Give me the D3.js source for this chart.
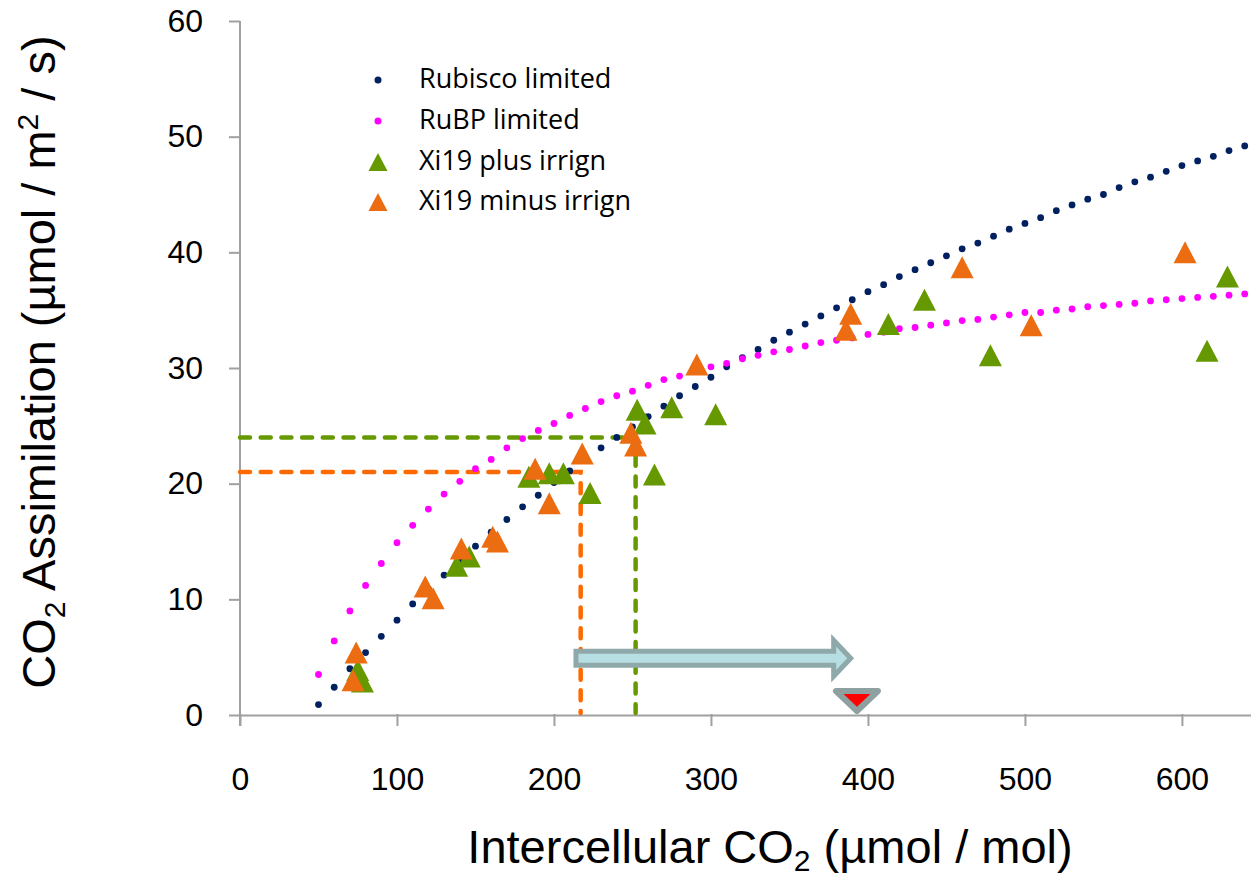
<!DOCTYPE html>
<html>
    <head>
        <style>
            body { margin: 0; background: #ffffff; }
            svg { background: #ffffff; }
        </style>
    </head>
    <body>
        <div id="chart"></div>

        <script src="https://cdnjs.cloudflare.com/ajax/libs/d3/7.8.5/d3.min.js"></script>

    <script>
        // model curves, one dot every 10 umol/mol of Ci
        var curveCi = d3.range(50, 641, 10);
        var rubiscoA = [0.9, 2.4, 4.0, 5.4, 6.8, 8.2, 9.6, 10.9, 12.1, 13.4,
            14.6, 15.8, 16.9, 18.0, 19.0, 20.1, 21.1, 22.1, 23.1, 24.0,
            24.9, 25.8, 26.7, 27.6, 28.4, 29.2, 30.1, 30.9, 31.6, 32.4,
            33.1, 33.8, 34.5, 35.2, 35.9, 36.6, 37.2, 37.9, 38.5, 39.1,
            39.7, 40.3, 40.8, 41.4, 42.0, 42.5, 43.0, 43.6, 44.1, 44.6,
            45.0, 45.6, 46.1, 46.5, 47.0, 47.5, 47.9, 48.3, 48.8, 49.2];
        var rubpA = [3.5, 6.4, 9.0, 11.2, 13.1, 14.9, 16.4, 17.8, 19.1, 20.2,
            21.3, 22.1, 23.1, 23.9, 24.6, 25.2, 25.9, 26.5, 27.1, 27.6,
            28.0, 28.5, 29.0, 29.3, 29.7, 30.1, 30.4, 30.8, 31.1, 31.4,
            31.6, 31.9, 32.2, 32.4, 32.6, 32.9, 33.1, 33.4, 33.5, 33.7,
            33.9, 34.1, 34.2, 34.4, 34.6, 34.8, 34.8, 35.0, 35.1, 35.3,
            35.4, 35.5, 35.6, 35.8, 35.9, 36.0, 36.1, 36.2, 36.3, 36.4];

        // measured points [Ci, A]
        var plusIrrign = [[75, 3.9], [78, 2.9], [138, 12.9], [146, 13.7], [184, 20.6], [197, 20.9],
            [206, 20.9], [223, 19.2], [253, 26.4], [258, 25.2], [264, 20.8], [275, 26.6],
            [303, 26.0], [413, 33.8], [436, 35.9], [478, 31.1], [616, 31.5], [629, 37.9]];
        var minusIrrign = [[72, 3.0], [74, 5.4], [118, 11.1], [123, 10.1], [141, 14.4], [161, 15.4],
            [164, 15.0], [188, 21.3], [197, 18.3], [218, 22.6], [249, 24.4], [252, 23.3],
            [291, 30.3], [386, 33.3], [389, 34.7], [460, 38.7], [504, 33.7], [602, 40.0]];

        // dashed read-off lines [Ci, A]
        var plusReadOff = [252, 24];
        var minusReadOff = [217, 21];

        // shift arrow and ambient CO2 marker
        var arrowCi = [214, 389];
        var arrowA = 4.9;
        var ambientCi = 393;

        var xTicks = [0, 100, 200, 300, 400, 500, 600];
        var yTicks = [0, 10, 20, 30, 40, 50, 60];

        var legendLabels = ["Rubisco limited", "RuBP limited", "Xi19 plus irrign", "Xi19 minus irrign"];

        var navy = "#002060", magenta = "#ff00ff", green = "#669900", orange = "#ec6c12";

        var width = 1251, height = 879;

        var svg = d3.select("#chart")
            .append("svg")
            .attr("width", width)
            .attr("height", height);

        var x = d3.scaleLinear().domain([0, 644]).range([240, 1251]);
        var y = d3.scaleLinear().domain([0, 60]).range([715, 21]);

        // axes
        var xAxis = svg.append("g")
            .attr("transform", "translate(0," + y(0) + ")")
            .call(d3.axisBottom(x).tickValues(xTicks).tickSize(11).tickSizeOuter(0).tickPadding(41));
        var yAxis = svg.append("g")
            .attr("transform", "translate(" + x(0) + ",0)")
            .call(d3.axisLeft(y).tickValues(yTicks).tickSize(11).tickSizeOuter(0).tickPadding(26));

        [xAxis, yAxis].forEach(function(g) {
            g.select(".domain").attr("stroke", "#a0a0a0").attr("stroke-width", 2);
            g.selectAll(".tick line").attr("stroke", "#a0a0a0").attr("stroke-width", 2);
            g.selectAll(".tick text")
                .attr("fill", "#000")
                .style("font-family", "'Liberation Sans', Arial, sans-serif")
                .style("font-size", "32px");
        });
        xAxis.selectAll(".tick line").attr("y1", -1);
        yAxis.select(".domain").attr("d", "M0," + y(60) + "V" + (y(0) + 11));

        // dashed read-off lines
        function readOff(p, color) {
            svg.append("path")
                .attr("d", "M" + x(0) + "," + y(p[1]) + "H" + x(p[0]) + "V" + (y(0) - 2))
                .attr("fill", "none")
                .attr("stroke", color)
                .attr("stroke-width", 4.5)
                .attr("stroke-linecap", "round")
                .attr("stroke-dasharray", "10,10.7");
        }
        readOff(plusReadOff, "#669900");
        readOff(minusReadOff, "#ff6a00");

        // model curves as dots
        function dots(values, color) {
            svg.append("g").selectAll("circle")
                .data(values)
                .enter().append("circle")
                .attr("cx", function(d, i) { return x(curveCi[i]); })
                .attr("cy", function(d) { return y(d); })
                .attr("r", 3.4)
                .attr("fill", color);
        }
        dots(rubiscoA, navy);
        dots(rubpA, magenta);

        var tri = "M0,-11L11.5,11L-11.5,11Z";
        function triangles(points, color) {
            svg.append("g").selectAll("path")
                .data(points)
                .enter().append("path")
                .attr("d", tri)
                .attr("transform", function(d) { return "translate(" + x(d[0]) + "," + y(d[1]) + ")"; })
                .attr("fill", color);
        }
        triangles(plusIrrign, green);
        triangles(minusIrrign, orange);

        // block arrow
        var ax0 = x(arrowCi[0]), ax1 = x(arrowCi[1]), ay = y(arrowA);
        var hb = ax1 - 17;
        svg.append("path")
            .attr("d", "M" + ax0 + "," + (ay - 7) + "H" + hb + "V" + (ay - 18) + "L" + ax1 + "," + ay +
                "L" + hb + "," + (ay + 18) + "V" + (ay + 7) + "H" + ax0 + "Z")
            .attr("fill", "#b7dee2")
            .attr("stroke", "#8fa8aa")
            .attr("stroke-width", 5)
            .attr("stroke-linejoin", "miter");

        // ambient CO2 marker
        var mx = x(ambientCi), my = y(0) - 4;
        svg.append("path")
            .attr("d", "M" + (mx - 21) + "," + (my - 20) + "H" + (mx + 21) + "L" + mx + "," + my + "Z")
            .attr("fill", "#ff0000")
            .attr("stroke", "#8fa0a0")
            .attr("stroke-width", 6)
            .attr("stroke-linejoin", "round");

        // legend
        var legend = svg.append("g").attr("transform", "translate(378,0)");
        var rowY = [80, 121, 162, 202];
        legendLabels.forEach(function(label, i) {
            var row = legend.append("g").attr("transform", "translate(0," + rowY[i] + ")");
            if (i < 2) {
                row.append("circle").attr("r", 3.5).attr("fill", i == 0 ? navy : magenta);
            } else {
                row.append("path").attr("d", "M0,-9L9.5,9L-9.5,9Z").attr("fill", i == 2 ? green : orange);
            }
            row.append("text")
                .attr("x", 41)
                .attr("y", 8)
                .style("font-family", "'Open Sans', sans-serif")
                .style("font-size", "27px")
                .text(label);
        });

        // axis titles
        var xt = svg.append("text")
            .attr("x", 770)
            .attr("y", 863)
            .attr("text-anchor", "middle")
            .style("font-family", "'Liberation Sans', Arial, sans-serif")
            .style("font-size", "47px");
        xt.append("tspan").text("Intercellular CO");
        xt.append("tspan").attr("dy", 8).style("font-size", "30px").text("2");
        xt.append("tspan").attr("dy", -8).text(" (\u00b5mol / mol)");

        var yt = svg.append("text")
            .attr("transform", "translate(55,362) rotate(-90)")
            .attr("text-anchor", "middle")
            .style("font-family", "'Liberation Sans', Arial, sans-serif")
            .style("font-size", "47px");
        yt.append("tspan").text("CO");
        yt.append("tspan").attr("dy", 10).style("font-size", "30px").text("2");
        yt.append("tspan").attr("dy", -10).text(" Assimilation (\u00b5mol / m");
        yt.append("tspan").attr("dy", -17).style("font-size", "30px").text("2");
        yt.append("tspan").attr("dy", 17).text(" / s)");
    </script>
    </body>
</html>
